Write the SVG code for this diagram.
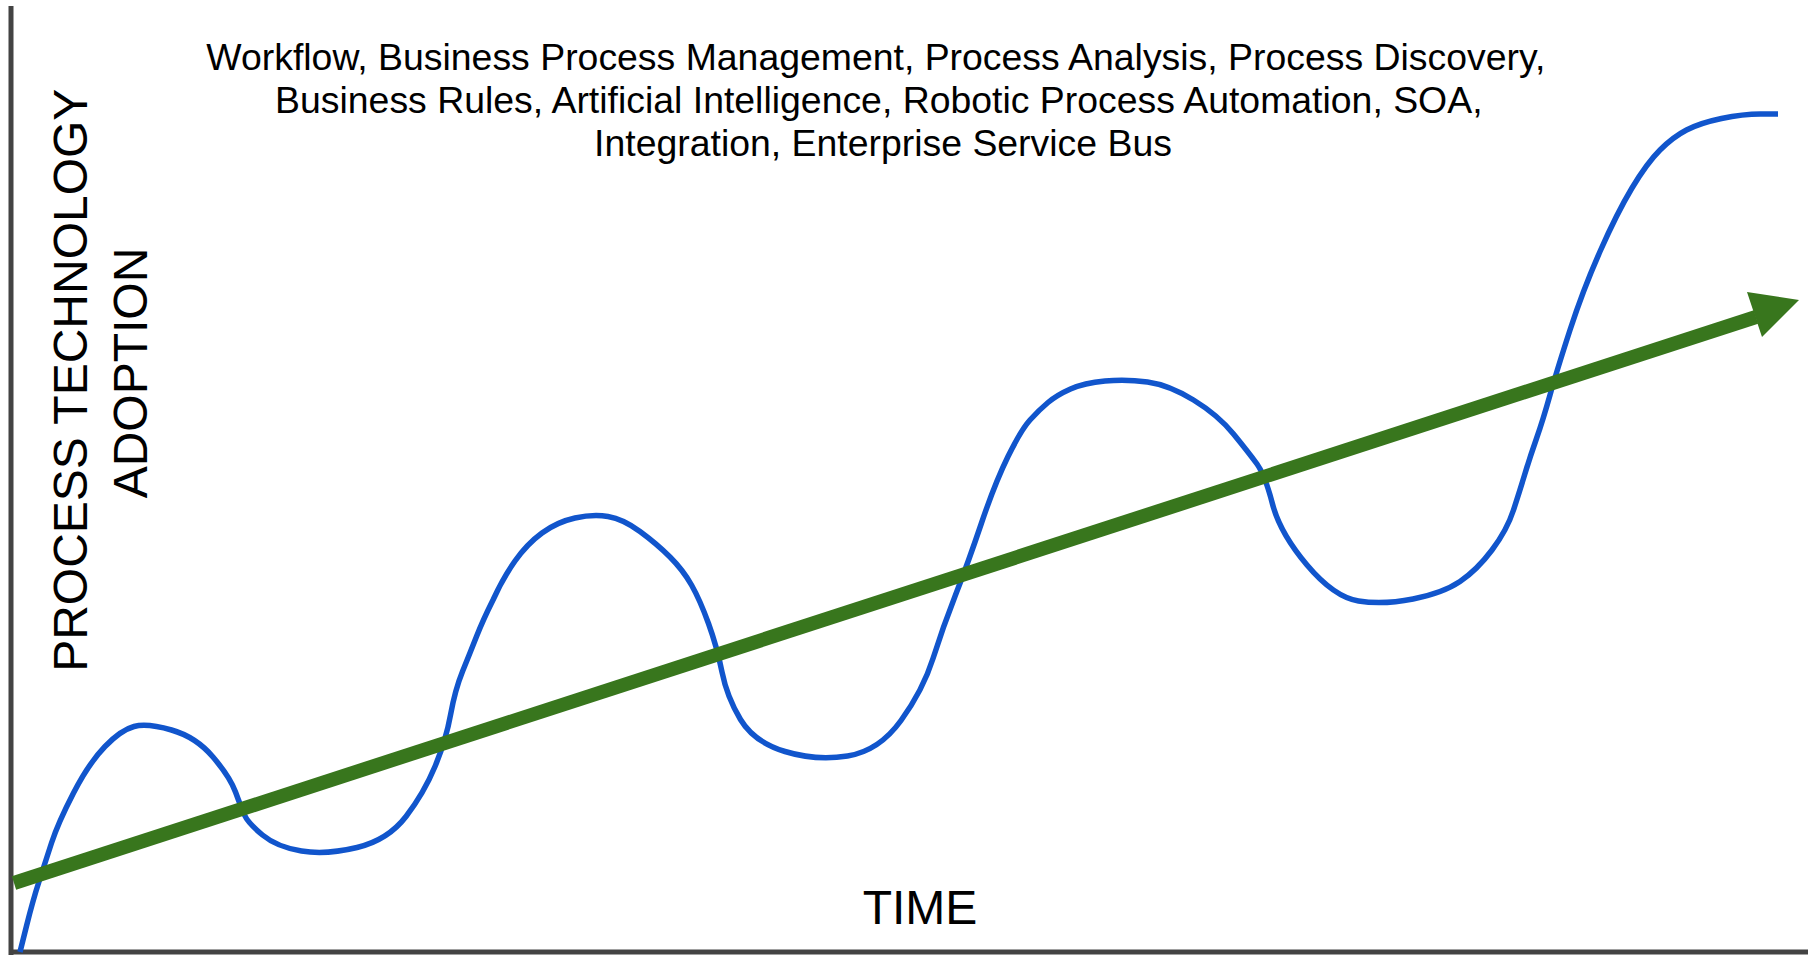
<svg xmlns="http://www.w3.org/2000/svg" width="1808" height="958" viewBox="0 0 1808 958">
<style>
.lbl{font-family:"Liberation Sans",Arial,sans-serif;fill:#000;}
.axis{stroke:#434343;stroke-width:5;fill:none;}
.wave{stroke:#1155cc;stroke-width:5.5;fill:none;stroke-linejoin:round;}
.trend{stroke:#38761d;stroke-width:14;fill:none;}
</style>
<rect x="0" y="0" width="1808" height="958" fill="#ffffff"/>
<g id="axes">
<line class="axis" x1="11" y1="6" x2="11" y2="955"/>
<line class="axis" x1="9" y1="952" x2="1808" y2="952"/>
</g>
<g id="title">
<text class="lbl" font-size="37.4" text-anchor="middle">
<tspan x="881" y="70">Workflow, Business Process Management, Process Analysis, Process Discovery,</tspan>
<tspan x="884" y="113">Business Rules, Artificial Intelligence, Robotic Process Automation, SOA,</tspan>
<tspan x="883" y="156">Integration, Enterprise Service Bus</tspan>
</text>
</g>
<g id="y-label">
<text class="lbl" font-size="48" text-anchor="middle" transform="rotate(-90)">
<tspan x="-374" y="87">PROCESS TECHNOLOGY</tspan>
<tspan x="-373" y="147">ADOPTION</tspan>
</text>
</g>
<g id="x-label">
<text class="lbl" font-size="48" text-anchor="middle" x="920" y="924">TIME</text>
</g>
<g id="adoption-wave">
<path class="wave" d="M20,952 L26.5,926 Q33,900 39,881.5 Q45,863 51.5,843 Q58,823 73.5,793 Q89,763 105,746.5 Q121,730 134,726.5 Q147,723 171.5,730 Q196,737 213,757 Q230,777 235.5,792 Q241,807 244.5,815 Q248,823 262.5,835 Q277,847 301.5,851 Q326,855 357,847.5 Q388,840 406,816.5 Q424,793 435,766.5 Q446,740 450.5,715 Q455,690 462.5,671.5 Q470,653 476.5,636.5 Q483,620 493,600 Q503,578 515,561 Q527,544 542,533 Q557,522 575,518 Q593,514 608,516.5 Q623,519 640,531.5 Q657,544 670,557 Q683,570 691.5,585 Q700,600 708.5,623.5 Q717,647 722,672 Q727,697 740.5,719.5 Q754,742 785,751.5 Q816,761 847.5,756 Q879,751 901,720.5 Q923,690 933,658.5 Q943,627 955.5,595 Q968,563 981.5,523 Q995,483 1008,456.5 Q1021,430 1030,420 Q1039,410 1048,402.5 Q1057,395 1070.5,389 Q1084,383 1105,381 Q1126,379 1147.5,382 Q1169,385 1193.5,400 Q1218,415 1233.5,434 Q1249,453 1257,464 Q1265,475 1272.5,504 Q1280,533 1307,565 Q1334,597 1358.5,601 Q1383,605 1413,599 Q1443,593 1460,581.5 Q1477,570 1492,550 Q1507,530 1513.5,510 Q1520,490 1525,473.5 Q1530,457 1536.5,438.5 Q1543,420 1550,395 Q1557,370 1570,330 Q1583,290 1600,251.5 Q1617,213 1632,188 Q1647,163 1660,150 Q1673,137 1686.5,130 Q1700,123 1721.5,118.5 Q1743,114 1760.5,114 L1778,114"/>
</g>
<g id="connectors">
<line class="trend" x1="14" y1="883" x2="1756" y2="317"/>
<polygon points="1799,300 1747,292 1762,337" fill="#38761d"/>
</g>
</svg>
